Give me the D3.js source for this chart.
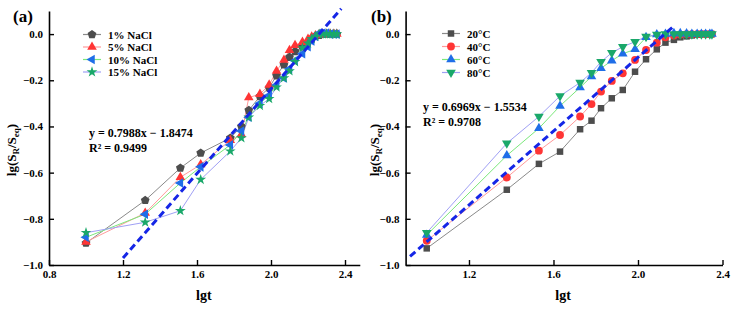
<!DOCTYPE html>
<html>
<head>
<meta charset="utf-8">
<script src="https://cdn.jsdelivr.net/npm/d3@7"></script>
<style>
  body { margin: 0; background: #fff; }
  text { font-family: "Liberation Serif", "Times New Roman", serif; font-weight: bold; }
</style>
</head>
<body>
<svg id="chart" width="736" height="310"></svg>
<script>
// ---- panel (a): NaCl concentration ----
const xA = [1.0, 1.32, 1.51, 1.62, 1.78, 1.84, 1.88, 1.94, 1.99, 2.03, 2.07, 2.10, 2.13, 2.17, 2.20, 2.22, 2.24, 2.26, 2.28, 2.30, 2.32, 2.34, 2.356];
const nacl1 = [-0.905, -0.72, -0.58, -0.515, -0.45, -0.40, -0.33, -0.27, -0.232, -0.18, -0.133, -0.10, -0.075, -0.055, -0.035, -0.02, -0.01, -0.005, 0, 0, 0, 0, 0];
const nacl5 = [-0.90, -0.775, -0.62, -0.565, -0.46, -0.435, -0.275, -0.26, -0.22, -0.16, -0.112, -0.07, -0.048, -0.035, -0.022, -0.012, -0.006, -0.002, 0, 0, 0, 0, 0];
const nacl10 = [-0.88, -0.78, -0.645, -0.575, -0.48, -0.42, -0.36, -0.30, -0.265, -0.22, -0.19, -0.15, -0.115, -0.085, -0.055, -0.03, -0.01, 0.005, 0.005, 0.005, 0, 0, 0];
const nacl15 = [-0.86, -0.815, -0.765, -0.63, -0.507, -0.45, -0.36, -0.31, -0.28, -0.23, -0.19, -0.16, -0.12, -0.06, -0.04, -0.02, -0.01, 0, 0, 0, 0, 0, 0];
const namesA = ["1% NaCl", "5% NaCl", "10% NaCl", "15% NaCl"];
const fitA = [[1.2, -0.97], [2.38, 0.11]];

// ---- panel (b): temperature ----
const xB = [1.0, 1.379, 1.531, 1.631, 1.726, 1.78, 1.825, 1.876, 1.928, 1.986, 2.038, 2.089, 2.13, 2.17, 2.20, 2.23, 2.255, 2.28, 2.30, 2.32, 2.34, 2.35];
const temp20 = [-0.928, -0.674, -0.562, -0.509, -0.412, -0.375, -0.321, -0.278, -0.242, -0.163, -0.109, -0.066, -0.037, -0.025, -0.014, -0.01, -0.006, -0.003, 0, 0, 0, 0];
const temp40 = [-0.895, -0.621, -0.505, -0.437, -0.357, -0.303, -0.249, -0.203, -0.17, -0.112, -0.069, -0.037, -0.014, -0.006, -0.002, 0, 0, 0, 0, 0, 0, 0];
const temp60 = [-0.87, -0.526, -0.408, -0.311, -0.231, -0.184, -0.148, -0.115, -0.085, -0.066, -0.014, -0.002, 0, 0.003, 0.003, 0.002, 0, 0, 0, 0, 0, 0];
const temp80 = [-0.86, -0.473, -0.357, -0.268, -0.21, -0.167, -0.12, -0.081, -0.055, -0.033, -0.011, -0.002, 0, 0, 0, 0, 0, 0, 0, 0, 0, 0];
const namesB = ["20°C", "40°C", "60°C", "80°C"];
const fitB = [[0.921, -0.963], [2.175, 0.039]];

const yTicks = [-1.0, -0.8, -0.6, -0.4, -0.2, 0.0];
const xTicksA = [0.8, 1.2, 1.6, 2.0, 2.4];
const xTicksB = [1.2, 1.6, 2.0, 2.4];

const lineColors = ["#8a8a8a", "#ff9a9a", "#7be87b", "#a0a0f5"];
const markColors = ["#4d4d4d", "#ff3535", "#1f6ee8", "#1aa86a"];

const svg = d3.select("#chart");

function pentagon(r) {
  const pts = d3.range(5).map(i => {
    const a = -Math.PI / 2 + i * 2 * Math.PI / 5;
    return [r * Math.cos(a), r * Math.sin(a)];
  });
  return "M" + pts.map(p => p.join(",")).join("L") + "Z";
}

function marker(g, shape, color) {
  let d, rot = 0;
  if (shape === "pentagon") d = pentagon(4.6);
  else if (shape === "up") d = d3.symbol(d3.symbolTriangle, 40)();
  else if (shape === "left") { d = d3.symbol(d3.symbolTriangle, 40)(); rot = -90; }
  else if (shape === "down") { d = d3.symbol(d3.symbolTriangle, 40)(); rot = 180; }
  else if (shape === "star") d = d3.symbol(d3.symbolStar, 36)();
  else if (shape === "square") d = d3.symbol(d3.symbolSquare, 42)();
  else d = d3.symbol(d3.symbolCircle, 48)();
  g.append("path").attr("d", d).attr("fill", color)
    .attr("transform", rot ? `rotate(${rot})` : null);
}

function drawPanel(opt) {
  const x = d3.scaleLinear().domain(opt.xDomain).range(opt.xRange);
  const y = d3.scaleLinear().domain([-1.0, 0.1]).range([265, 11]);
  const g = svg.append("g");

  const xAxis = g.append("g").attr("transform", "translate(0,265)")
    .call(d3.axisBottom(x).tickValues(opt.xTicks).tickFormat(d3.format(".1f"))
      .tickSizeInner(-5).tickSizeOuter(0).tickPadding(5));
  const yAxis = g.append("g").attr("transform", `translate(${opt.xRange[0]},0)`)
    .call(d3.axisLeft(y).tickValues(yTicks).tickFormat(d3.format(".1f"))
      .tickSizeInner(-5).tickSizeOuter(0).tickPadding(6));
  [xAxis, yAxis].forEach(a => {
    a.select(".domain").attr("stroke-width", 1.6);
    a.selectAll(".tick line").attr("stroke-width", 1.4);
    a.selectAll("text").attr("font-size", 11).attr("font-family", "Liberation Serif").attr("font-weight", "bold").attr("fill", "#000");
  });

  const line = d3.line().x(d => x(d[0])).y(d => y(d[1]));

  opt.series.forEach((s, i) => {
    const pts = opt.xs.map((v, j) => [v, s[j]]);
    g.append("path").attr("d", line(pts)).attr("fill", "none")
      .attr("stroke", lineColors[i]).attr("stroke-width", 1);
  });
  opt.series.forEach((s, i) => {
    opt.xs.forEach((v, j) => {
      const m = g.append("g").attr("transform", `translate(${x(v)},${y(s[j])})`);
      marker(m, opt.shapes[i], markColors[i]);
    });
  });

  g.append("path").attr("d", line(opt.fit)).attr("fill", "none")
    .attr("stroke", "#1526e6").attr("stroke-width", 3)
    .attr("stroke-dasharray", "7,4");

  // legend
  opt.names.forEach((n, i) => {
    const ly = opt.legend[1] + i * opt.legend[2];
    const lx = opt.legend[0];
    g.append("line").attr("x1", lx).attr("x2", lx + 18).attr("y1", ly).attr("y2", ly)
      .attr("stroke", lineColors[i]).attr("stroke-width", 1.2);
    const m = g.append("g").attr("transform", `translate(${lx + 9},${ly})`);
    marker(m, opt.shapes[i], markColors[i]);
    g.append("text").attr("x", lx + 25).attr("y", ly + 4).attr("font-size", 11).text(n);
  });

  // equation
  g.append("text").attr("x", opt.eq[0]).attr("y", opt.eq[1]).attr("font-size", 12).text(opt.eqText);
  g.append("text").attr("x", opt.eq[0]).attr("y", opt.eq[1] + 15).attr("font-size", 12).text(opt.r2Text);

  // labels
  g.append("text").attr("x", opt.tag[0]).attr("y", 22).attr("font-size", 17).text(opt.tagText);
  g.append("text").attr("x", (opt.xRange[0] + opt.xRange[1]) / 2 + opt.xlabOff).attr("y", 300)
    .attr("text-anchor", "middle").attr("font-size", 14).text("lgt");
  const yl = g.append("text").attr("transform", `translate(${opt.ylabX},150) rotate(-90)`)
    .attr("text-anchor", "middle").attr("font-size", 13);
  yl.append("tspan").text("lg(S");
  yl.append("tspan").attr("font-size", 9).attr("dy", 3).text("R");
  yl.append("tspan").attr("dy", -3).text("/S");
  yl.append("tspan").attr("font-size", 9).attr("dy", 3).text("eq");
  yl.append("tspan").attr("dy", -3).text(")");
}

drawPanel({
  xDomain: [0.8, 2.48], xRange: [49, 359.8], xTicks: xTicksA, xs: xA,
  series: [nacl1, nacl5, nacl10, nacl15], names: namesA,
  shapes: ["pentagon", "up", "left", "star"], fit: fitA,
  legend: [83, 34.5, 12.5], eq: [89, 137], eqText: "y = 0.7988x \u2212 1.8474", r2Text: "R\u00b2 = 0.9499",
  tag: [13], tagText: "(a)", xlabOff: -0.5, ylabX: 16
});

drawPanel({
  xDomain: [0.9, 2.4], xRange: [405.6, 722.5], xTicks: xTicksB, xs: xB,
  series: [temp20, temp40, temp60, temp80], names: namesB,
  shapes: ["square", "circle", "up", "down"], fit: fitB,
  legend: [442, 33.5, 13], eq: [423, 111], eqText: "y = 0.6969x \u2212 1.5534", r2Text: "R\u00b2 = 0.9708",
  tag: [371], tagText: "(b)", xlabOff: -1, ylabX: 379
});
</script>
</body>
</html>
